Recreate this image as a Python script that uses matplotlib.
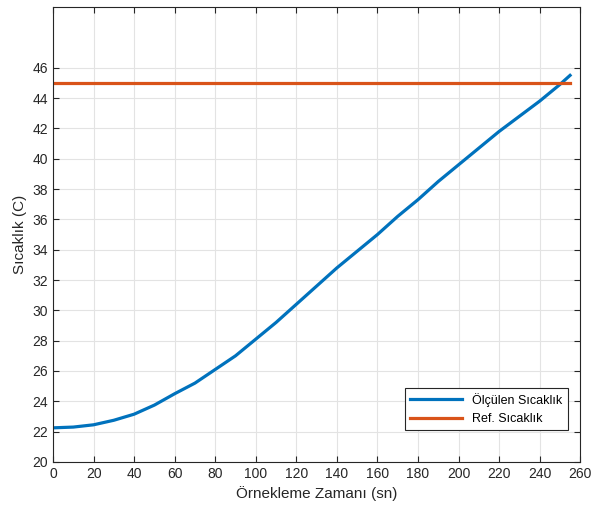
import numpy as np
import matplotlib.pyplot as plt

time_sn = [0, 10, 20, 30, 40, 50, 60, 70, 80, 90, 100, 110, 120, 130, 140,
           150, 160, 170, 180, 190, 200, 210, 220, 230, 240, 250, 255]
temp_c = [22.25, 22.3, 22.45, 22.75, 23.15, 23.75, 24.5, 25.2, 26.1, 27.0, 28.1,
          29.2, 30.4, 31.6, 32.8, 33.9, 35.0, 36.2, 37.3, 38.5, 39.6, 40.7,
          41.8, 42.8, 43.8, 44.9, 45.5]

# reference temperature
ref_time = [0, 255]
ref_temp = [45, 45]

xticks = list(range(0, 261, 20))
yticks = list(range(20, 47, 2))

plt.rcParams['font.family'] = ['Liberation Sans', 'DejaVu Sans']

fig = plt.figure(figsize=(5.93, 5.11), dpi=100)
ax = fig.add_axes([0.0894, 0.096, 0.889, 0.89])

ax.plot(time_sn, temp_c, color='#0072BD', linewidth=2.3, label='Ölçülen Sıcaklık')
ax.plot(ref_time, ref_temp, color='#D95319', linewidth=2.3, label='Ref. Sıcaklık')

ax.set_xlim(0, 260)
ax.set_ylim(20, 50)
ax.set_xticks(xticks)
ax.set_yticks(yticks)
ax.grid(True, color='#e3e3e3', linewidth=0.8)
ax.set_axisbelow(True)
ax.tick_params(direction='in', top=True, right=True, labelsize=10,
               colors='#262626', length=4)
for s in ax.spines.values():
    s.set_color('#262626')
    s.set_linewidth(0.8)

ax.set_xlabel('Örnekleme Zamanı (sn)', fontsize=11, color='#262626')
ax.set_ylabel('Sıcaklık (C)', fontsize=11, color='#262626')

leg = ax.legend(loc='lower right', bbox_to_anchor=(0.976, 0.07), fontsize=9,
                fancybox=False, edgecolor='#262626', framealpha=1,
                handlelength=4.2, borderaxespad=0)
leg.get_frame().set_linewidth(0.8)

plt.savefig('out.png', dpi=100)
